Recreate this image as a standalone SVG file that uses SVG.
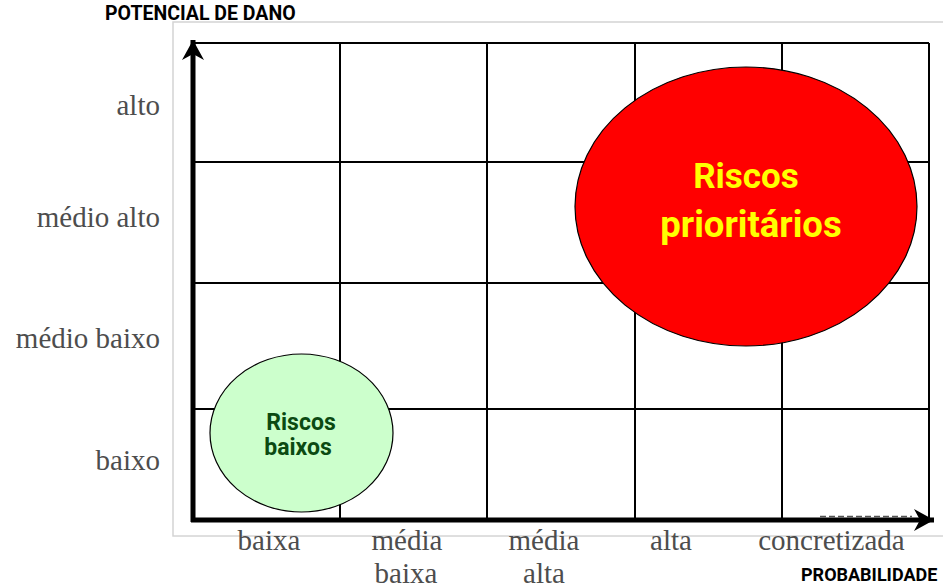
<svg xmlns="http://www.w3.org/2000/svg" width="943" height="588" viewBox="0 0 943 588">
<style>
.grid{stroke:#000;stroke-width:2;fill:none}
.axis{stroke:#000;stroke-width:5;fill:none}
.lab{font-family:"Liberation Serif","Times New Roman",serif;font-size:29px;fill:#4d4d4d}
.title{font-family:Roboto,"Liberation Sans",sans-serif;font-weight:bold;font-size:19.5px;fill:#000}
.node{font-family:Roboto,"Liberation Sans",sans-serif;font-weight:bold;text-anchor:middle}
</style>
<defs>
<marker id="arr" viewBox="0 0 24 24" refX="22" refY="12" markerWidth="24" markerHeight="24" markerUnits="userSpaceOnUse" orient="auto">
<path d="M22,12 L2,1 L8,12 L2,23 Z" fill="#000"/>
</marker>
</defs>
<rect width="943" height="588" fill="#fff"/>
<rect x="173" y="22" width="800" height="514" fill="none" stroke="#d4d4d4" stroke-width="1.5"/>
<g id="grid">
<path class="grid" d="M193,43 H929 M193,162 H929 M193,283 H929 M193,409 H929 M340,43 V520 M487,43 V520 M635,43 V520 M782,43 V520 M929,43 V520"/>
</g>
<g id="connectors">
<line x1="820" y1="516.5" x2="912" y2="516.5" stroke="#555" stroke-width="1.5" stroke-dasharray="6 3"/>
<path class="axis" d="M193,522 V40" marker-end="url(#arr)"/>
<path class="axis" d="M191,520 H934" marker-end="url(#arr)"/>
</g>
<g id="node-riscos-baixos">
<ellipse cx="301.5" cy="433" rx="91.5" ry="79" fill="#ccffcc" stroke="#000" stroke-width="1.2"/>
<text class="node" x="301" y="430" font-size="23" fill="#0b4a12">Riscos</text>
<text class="node" x="298" y="455" font-size="23" fill="#0b4a12">baixos</text>
</g>
<g id="node-riscos-prioritarios">
<ellipse cx="746" cy="206.5" rx="171" ry="139.5" fill="#ff0000" stroke="#000" stroke-width="1.2"/>
<text class="node" x="746" y="188" font-size="35" fill="#ffff00">Riscos</text>
<text class="node" x="751" y="237" font-size="36.5" fill="#ffff00">prioritários</text>
</g>
<g id="y-labels" class="lab" text-anchor="end">
<text x="160" y="115">alto</text>
<text x="160" y="227">médio alto</text>
<text x="160" y="348">médio baixo</text>
<text x="160" y="470">baixo</text>
</g>
<g id="x-labels" class="lab" text-anchor="middle">
<text x="269" y="550">baixa</text>
<text x="407" y="550">média</text>
<text x="406" y="583">baixa</text>
<text x="544" y="550">média</text>
<text x="544" y="583">alta</text>
<text x="671" y="550">alta</text>
<text x="831.5" y="550">concretizada</text>
</g>
<text class="title" x="105" y="20">POTENCIAL DE DANO</text>
<text class="title" x="801" y="581" style="font-size:18px">PROBABILIDADE</text>
</svg>
